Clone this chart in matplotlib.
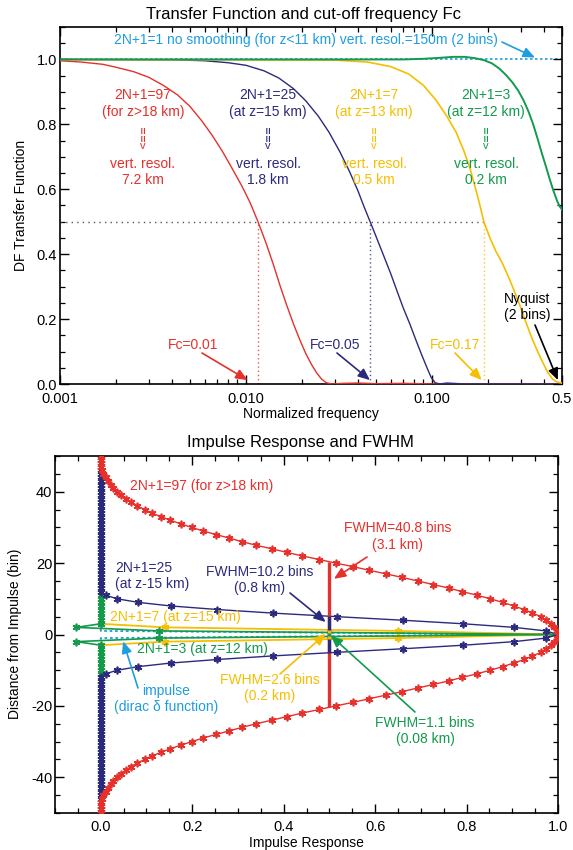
import numpy as np
import matplotlib.pyplot as plt
from matplotlib.ticker import MultipleLocator, FixedLocator, LogLocator, NullFormatter

plt.rcParams['font.family'] = ['Liberation Sans', 'DejaVu Sans']
plt.rcParams['axes.unicode_minus'] = False

RED = '#e5302c'
NAVY = '#2c2a7c'
GOLD = '#f6be00'
GREEN = '#139a4c'
SKY = '#1f9ddf'

# --- transfer functions ---
freq_1 = [0.001, 0.5]
tf_1 = [1.0, 1.0]

freq_97 = [0.001, 0.0013, 0.0017, 0.002, 0.0025, 0.003, 0.0036, 0.0043, 0.005, 0.0058,
           0.0066, 0.0075, 0.0085, 0.0095, 0.0105, 0.0116, 0.0128, 0.014, 0.0152, 0.0165,
           0.018, 0.0195, 0.021, 0.0225, 0.024, 0.0255, 0.027, 0.029, 0.033, 0.04,
           0.05, 0.07, 0.1, 0.5]
tf_97 = [0.996, 0.992, 0.985, 0.976, 0.962, 0.945, 0.92, 0.89, 0.855, 0.81,
         0.765, 0.715, 0.66, 0.61, 0.56, 0.50, 0.435, 0.37, 0.305, 0.245,
         0.185, 0.135, 0.093, 0.06, 0.034, 0.015, 0.004, 0.0, 0.002, 0.003,
         0.001, 0.002, 0.0, 0.0]

freq_25 = [0.001, 0.004, 0.006, 0.008, 0.01, 0.0125, 0.015, 0.018, 0.021, 0.0245,
           0.028, 0.032, 0.036, 0.040, 0.043, 0.0465, 0.05, 0.055, 0.06, 0.065,
           0.07, 0.076, 0.082, 0.088, 0.094, 0.099, 0.104, 0.11, 0.12, 0.13,
           0.15, 0.5]
tf_25 = [1.0, 0.999, 0.996, 0.99, 0.982, 0.965, 0.943, 0.91, 0.872, 0.825,
         0.775, 0.715, 0.655, 0.595, 0.548, 0.50, 0.455, 0.395, 0.34, 0.285,
         0.235, 0.185, 0.135, 0.09, 0.05, 0.02, 0.004, 0.0, 0.003, 0.002,
         0.0, 0.0]

freq_7 = [0.001, 0.03, 0.045, 0.06, 0.075, 0.09, 0.105, 0.1205, 0.135, 0.148,
          0.16, 0.17, 0.18, 0.19, 0.205, 0.22, 0.24, 0.26, 0.28, 0.3,
          0.32, 0.345, 0.37, 0.395, 0.42, 0.445, 0.47, 0.5]
tf_7 = [1.0, 0.998, 0.992, 0.978, 0.955, 0.92, 0.875, 0.824, 0.775, 0.72,
        0.665, 0.61, 0.556, 0.50, 0.45, 0.41, 0.37, 0.325, 0.28, 0.235,
        0.19, 0.14, 0.1, 0.065, 0.035, 0.015, 0.006, 0.003]

freq_3 = [0.001, 0.07, 0.09, 0.11, 0.13, 0.15, 0.17, 0.19, 0.21, 0.23,
          0.25, 0.27, 0.29, 0.31, 0.33, 0.35, 0.37, 0.39, 0.41, 0.43,
          0.45, 0.47, 0.485, 0.5]
tf_3 = [1.0, 1.0, 1.002, 1.005, 1.008, 1.008, 1.004, 0.998, 0.988, 0.972,
        0.952, 0.93, 0.905, 0.875, 0.84, 0.8, 0.755, 0.71, 0.67, 0.63,
        0.595, 0.565, 0.548, 0.537]

cutoff_freq = [0.0116, 0.0465, 0.19]
cutoff_colors = [RED, NAVY, GOLD]

# --- impulse responses, bins 0..N (kernels are symmetric) ---
half_97 = [1.0, 0.998, 0.992, 0.985, 0.974, 0.963, 0.944, 0.926, 0.903, 0.879,
           0.852, 0.823, 0.791, 0.761, 0.727, 0.693, 0.659, 0.623, 0.587, 0.552,
           0.514, 0.478, 0.441, 0.407, 0.374, 0.340, 0.309, 0.281, 0.252, 0.224,
           0.199, 0.175, 0.152, 0.132, 0.112, 0.096, 0.080, 0.066, 0.055, 0.044,
           0.036, 0.027, 0.022, 0.016, 0.011, 0.006, 0.003, 0.001, 0.0]
half_25 = [1.0, 0.974, 0.904, 0.793, 0.660, 0.516, 0.376, 0.255, 0.153, 0.082,
           0.036, 0.011, 0.0]
half_7 = [1.0, 0.65, 0.14, 0.0]
half_3 = [1.0, 0.128, -0.053, 0.0]
half_1 = [1.0, 0.0]

fwhm_97, fwhm_25, fwhm_7, fwhm_3 = 40.8, 10.2, 2.6, 1.1

NBIN = 50
bins = np.arange(-NBIN, NBIN + 1)


def full_kernel(half):
    h = np.zeros(NBIN + 1)
    h[:len(half)] = half
    return np.concatenate([h[::-1], h[1:]])


def px(x, y):
    # pixel position in the 573x850 picture -> figure fraction
    return x / 573.0, 1 - y / 850.0


fig = plt.figure(figsize=(5.73, 8.5), dpi=100)
ax1 = fig.add_axes([60 / 573, 1 - 384 / 850, 502 / 573, 357 / 850])
ax2 = fig.add_axes([55 / 573, 1 - 813 / 850, 503 / 573, 357 / 850])

for ax in (ax1, ax2):
    for s in ax.spines.values():
        s.set_linewidth(1.2)
    ax.tick_params(which='both', direction='in', top=True, right=True, labelsize=10.5)
    ax.tick_params(which='major', length=6.5, width=1.0)
    ax.tick_params(which='minor', length=3.5, width=0.9)
    ax.tick_params(axis='y', pad=2)

# ---------------- top panel ----------------
ax1.plot(freq_1, tf_1, color=SKY, ls=(0, (1.5, 1.5)), lw=1.2, zorder=1)
ax1.plot(freq_97, tf_97, color=RED, lw=1.0, zorder=3)
ax1.plot(freq_25, tf_25, color=NAVY, lw=1.0, zorder=3)
ax1.plot(freq_7, tf_7, color=GOLD, lw=1.2, zorder=3)
ax1.plot(freq_3, tf_3, color=GREEN, lw=1.4, zorder=4)

ax1.hlines(0.5, freq_97[0], cutoff_freq[-1], colors='#555555', linestyles=(0, (1, 3)), lw=1.0)
for f, c in zip(cutoff_freq, cutoff_colors):
    ax1.vlines(f, 0, 0.5, colors=c, linestyles=(0, (1, 2)), lw=1.0, alpha=0.8)

ax1.set_xscale('log')
ax1.set_xlim(0.001, 0.5)
ax1.set_ylim(0, 1.1)
ax1.xaxis.set_major_locator(FixedLocator([0.001, 0.01, 0.1, 0.5]))
ax1.set_xticklabels(['0.001', '0.010', '0.100', '0.5'])
ax1.xaxis.set_minor_locator(LogLocator(base=10, subs=np.arange(2, 10), numticks=20))
ax1.xaxis.set_minor_formatter(NullFormatter())
ax1.yaxis.set_major_locator(MultipleLocator(0.2))
ax1.yaxis.set_minor_locator(MultipleLocator(0.05))
ax1.set_yticklabels(['%.1f' % v for v in ax1.get_yticks()])
ax1.tick_params(axis='x', pad=5.5)

fig.text(*px(304, 14), 'Transfer Function and cut-off frequency Fc', ha='center', va='center', fontsize=12)
fig.text(*px(311, 414), 'Normalized frequency', ha='center', va='center', fontsize=10)
fig.text(*px(21, 205), 'DF Transfer Function', ha='center', va='center', rotation=90, fontsize=10)

fig.text(*px(306, 40), '2N+1=1 no smoothing (for z<11 km) vert. resol.=150m (2 bins)',
         ha='center', va='center', fontsize=10, color=SKY)
arrow = dict(arrowstyle='-|>,head_length=0.7,head_width=0.3', mutation_scale=10, lw=1.2, shrinkA=0, shrinkB=0)
ax1.annotate('', xy=(0.358, 1.006), xycoords='data', xytext=px(502, 42), textcoords='figure fraction',
             arrowprops=dict(arrow, color=SKY))

blocks = [(143, RED, '2N+1=97\n(for z>18 km)', '7.2 km'),
          (268, NAVY, '2N+1=25\n(at z=15 km)', '1.8 km'),
          (374, GOLD, '2N+1=7\n(at z=13 km)', '0.5 km'),
          (486, GREEN, '2N+1=3\n(at z=12 km)', '0.2 km')]
for x, c, head, res in blocks:
    fig.text(*px(x, 103.5), head, ha='center', va='center', fontsize=10, color=c, linespacing=1.25)
    fig.text(*px(x, 135), '\u00a6\u00a6', ha='center', va='center', fontsize=10, color=c)
    fig.text(*px(x, 146), 'v', ha='center', va='center', fontsize=8, color=c)
    fig.text(*px(x, 172), 'vert. resol.\n' + res, ha='center', va='center', fontsize=10, color=c,
             linespacing=1.25)

fc_notes = [('Fc=0.01', RED, (193, 345), (202, 353), (0.0102, 0.012)),
            ('Fc=0.05', NAVY, (335, 345), (337, 353), (0.0464, 0.012)),
            ('Fc=0.17', GOLD, (455, 345), (455, 353), (0.185, 0.012)),
            ('Nyquist\n(2 bins)', 'black', (527, 307), (535, 325), (0.475, 0.012))]
for txt, c, tpos, tail, tip in fc_notes:
    fig.text(*px(*tpos), txt, ha='center', va='center', fontsize=10, color=c, linespacing=1.2)
    ax1.annotate('', xy=tip, xycoords='data', xytext=px(*tail), textcoords='figure fraction',
                 arrowprops=dict(arrow, color=c))

# ---------------- bottom panel ----------------
star = (6, 2, 0)
mk = dict(marker=star, ms=5.5, mew=1.2)
ax2.plot(full_kernel(half_1), bins, color=SKY, ls=(0, (1.5, 1.5)), lw=1.3, zorder=2)
ax2.plot(full_kernel(half_7), bins, color=GOLD, lw=1.3, zorder=3, **mk)
ax2.plot(full_kernel(half_3), bins, color=GREEN, lw=1.2, zorder=4, **mk)
ax2.plot(full_kernel(half_25), bins, color=NAVY, lw=1.0, zorder=5, **mk)
ax2.plot(full_kernel(half_97), bins, color=RED, lw=1.0, zorder=6, **mk)

ax2.vlines(0.5, -fwhm_97 / 2, fwhm_97 / 2, colors=RED, lw=2.4, zorder=7)
ax2.vlines(0.5, -fwhm_25 / 2, fwhm_25 / 2, colors=NAVY, lw=2.4, zorder=8)
ax2.vlines(0.5, -fwhm_7 / 2, fwhm_7 / 2, colors=GOLD, lw=2.4, zorder=9)
ax2.vlines(0.5, -fwhm_3 / 2, fwhm_3 / 2, colors=GREEN, lw=2.4, zorder=10)

ax2.set_xlim(-0.1, 1.0)
ax2.set_ylim(-50, 50)
ax2.xaxis.set_minor_locator(MultipleLocator(0.05))
ax2.yaxis.set_minor_locator(MultipleLocator(5))
ax2.set_xticks([0, 0.2, 0.4, 0.6, 0.8, 1.0])
ax2.set_xticklabels(['0.0', '0.2', '0.4', '0.6', '0.8', '1.0'])
ax2.set_yticks([-40, -20, 0, 20, 40])
ax2.set_yticklabels(['-40', '-20', '0', '20', '40'])
ax2.tick_params(axis='x', pad=5)

fig.text(*px(300, 443), 'Impulse Response and FWHM', ha='center', va='center', fontsize=12)
fig.text(*px(306, 843), 'Impulse Response', ha='center', va='center', fontsize=10)
fig.text(*px(15, 634), 'Distance from Impulse (bin)', ha='center', va='center', rotation=90, fontsize=10)

fig.text(*px(130, 486), '2N+1=97 (for z>18 km)', ha='left', va='center', fontsize=10, color=RED)
fig.text(*px(115, 576), '2N+1=25\n(at z-15 km)', ha='left', va='center', fontsize=10, color=NAVY,
         linespacing=1.25)
fig.text(*px(110, 617), '2N+1=7 (at z=15 km)', ha='left', va='center', fontsize=10, color=GOLD)
fig.text(*px(137, 649.5), '2N+1=3 (at z=12 km)', ha='left', va='center', fontsize=10, color=GREEN)

bottom_notes = [('FWHM=10.2 bins\n(0.8 km)', NAVY, (260, 580), (290, 593), (0.492, 3.5)),
                ('FWHM=40.8 bins\n(3.1 km)', RED, (398, 536.5), (367, 557), (0.510, 15.6)),
                ('impulse\n(dirac \u03b4 function)', SKY, (166, 699), (138, 688), (0.049, -1.9)),
                ('FWHM=2.6 bins\n(0.2 km)', GOLD, (270, 688), (280, 674), (0.492, 0.2)),
                ('FWHM=1.1 bins\n(0.08 km)', GREEN, (425, 731), (415, 712), (0.503, -0.3))]
for txt, c, tpos, tail, tip in bottom_notes:
    fig.text(*px(*tpos), txt, ha='center', va='center', fontsize=10, color=c, linespacing=1.25)
    ax2.annotate('', xy=tip, xycoords='data', xytext=px(*tail), textcoords='figure fraction',
                 arrowprops=dict(arrow, color=c), zorder=12)

fig.savefig('out.png', dpi=100)
